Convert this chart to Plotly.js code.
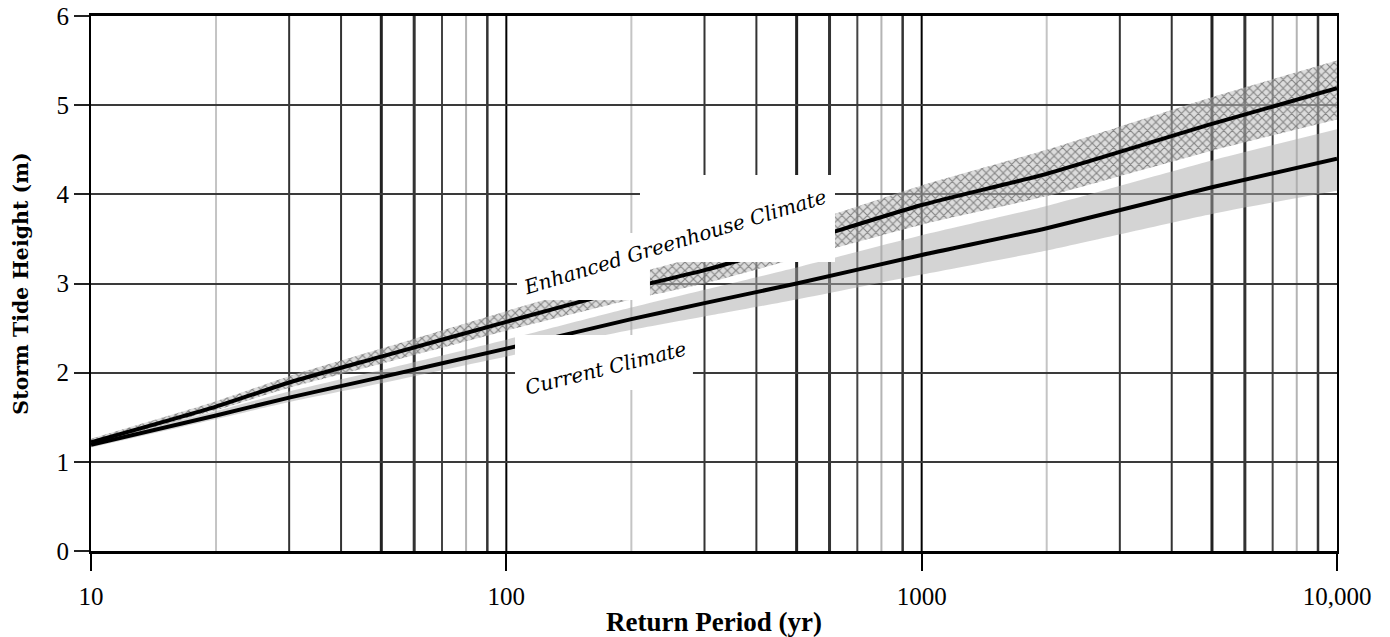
<!DOCTYPE html>
<html>
<head>
<meta charset="utf-8">
<script src="https://cdn.plot.ly/plotly-3.0.1.min.js"></script>
<style>html,body{margin:0;padding:0;background:#fff;}#chart{width:1390px;height:637px;}</style>
</head>
<body>
<div id="chart"></div>
<script>
// ---- data ----
const returnPeriod = [10, 20, 30, 50, 100, 200, 300, 500, 1000, 2000, 5000, 10000];

const enhancedHeight = [1.22, 1.62, 1.89, 2.18, 2.57, 2.95, 3.15, 3.45, 3.88, 4.23, 4.79, 5.19];
const enhancedUpper  = [1.26, 1.68, 1.96, 2.27, 2.69, 3.10, 3.32, 3.64, 4.10, 4.50, 5.09, 5.50];
const enhancedLower  = [1.19, 1.58, 1.83, 2.10, 2.47, 2.82, 3.00, 3.28, 3.66, 3.98, 4.49, 4.84];

const currentHeight  = [1.19, 1.52, 1.72, 1.95, 2.27, 2.60, 2.78, 3.00, 3.32, 3.62, 4.08, 4.40];
const currentUpper   = [1.22, 1.57, 1.79, 2.03, 2.37, 2.73, 2.93, 3.18, 3.54, 3.87, 4.38, 4.73];
const currentLower   = [1.16, 1.48, 1.67, 1.88, 2.18, 2.48, 2.63, 2.82, 3.10, 3.37, 3.78, 4.04];

const xTickVals = [10, 100, 1000, 10000];
const xTickText = ['10', '100', '1000', '10,000'];
const yTickVals = [0, 1, 2, 3, 4, 5, 6];

const seriesLabels = ['Enhanced Greenhouse Climate', 'Current Climate'];

// minor log grid multipliers and their drawn shade
const gridMultipliers = [2, 3, 4, 5, 6, 7, 8, 9];
const gridColors = ['#c4c4c4', '#333333', '#333333', '#222222', '#333333', '#444444', '#b4b4b4', '#333333'];
const gridWidths = [2, 2, 2, 3, 3, 2, 2, 2.5];
const gridDecades = [10, 100, 1000];

// ---- traces ----
const traces = [
  {x: returnPeriod, y: currentLower, mode: 'lines', line: {width: 0, color: 'rgba(0,0,0,0)', shape: 'spline', smoothing: 0.6}, hoverinfo: 'skip', showlegend: false},
  {x: returnPeriod, y: currentUpper, mode: 'lines', line: {width: 0, color: 'rgba(0,0,0,0)', shape: 'spline', smoothing: 0.6}, fill: 'tonexty', fillcolor: 'rgba(170,170,170,0.5)', hoverinfo: 'skip', showlegend: false},
  {x: returnPeriod, y: enhancedLower, mode: 'lines', line: {width: 0, color: 'rgba(0,0,0,0)', shape: 'spline', smoothing: 0.6}, hoverinfo: 'skip', showlegend: false},
  {x: returnPeriod, y: enhancedUpper, mode: 'lines', line: {width: 0, color: 'rgba(0,0,0,0)', shape: 'spline', smoothing: 0.6}, fill: 'tonexty', fillcolor: 'rgba(185,185,185,0.55)',
    fillpattern: {shape: 'x', size: 6, solidity: 0.35, fgcolor: 'rgba(110,110,110,0.8)', bgcolor: 'rgba(190,190,190,0.55)'}, hoverinfo: 'skip', showlegend: false},
  {x: returnPeriod, y: currentHeight, mode: 'lines', name: seriesLabels[1], line: {color: '#000', width: 4, shape: 'spline', smoothing: 0.6}, showlegend: false},
  {x: returnPeriod, y: enhancedHeight, mode: 'lines', name: seriesLabels[0], line: {color: '#000', width: 4, shape: 'spline', smoothing: 0.6}, showlegend: false}
];

// ---- vertical log grid as shapes ----
const shapes = [];
gridDecades.forEach(d => {
  gridMultipliers.forEach((m, i) => {
    shapes.push({type: 'line', layer: 'below', xref: 'x', yref: 'paper', x0: d * m, x1: d * m, y0: 0, y1: 1,
      line: {color: gridColors[i], width: gridWidths[i]}});
  });
});
[100, 1000].forEach(d => {
  shapes.push({type: 'line', layer: 'below', xref: 'x', yref: 'paper', x0: d, x1: d, y0: 0, y1: 1,
    line: {color: '#000', width: 2}});
});
// white label boxes (as in the original scan)
const whiteBoxes = [
  [0.4406, 0.5971, 0.5402, 0.7028],
  [0.3419, 0.4486, 0.4692, 0.5944],
  [0.3403, 0.4831, 0.3009, 0.4037]
];
whiteBoxes.forEach(b => {
  shapes.push({type: 'rect', layer: 'above', xref: 'paper', yref: 'paper', x0: b[0], x1: b[1], y0: b[2], y1: b[3],
    fillcolor: '#fff', line: {width: 0}});
});

const layout = {
  width: 1390, height: 637,
  margin: {l: 91, r: 53, t: 16, b: 86},
  paper_bgcolor: '#fff', plot_bgcolor: '#fff',
  showlegend: false,
  font: {family: 'Liberation Serif, Times New Roman, serif', color: '#000', size: 25},
  xaxis: {
    type: 'log', range: [1, 4],
    tickvals: xTickVals, ticktext: xTickText,
    ticks: 'outside', ticklen: 17, tickwidth: 2, tickcolor: '#000',
    ticklabelstandoff: 4,
    showgrid: false, zeroline: false,
    showline: true, linecolor: '#000', linewidth: 3, mirror: true,
    tickfont: {family: 'Liberation Serif, serif', size: 25, color: '#000'},
    title: {text: 'Return Period (yr)', font: {family: 'Liberation Serif, serif', size: 27, color: '#000', weight: 'bold'}, standoff: 4}
  },
  yaxis: {
    range: [0, 6], tickvals: yTickVals,
    ticks: 'outside', ticklen: 15, tickwidth: 2, tickcolor: '#222',
    showgrid: true, gridcolor: '#3a3a3a', gridwidth: 2, zeroline: false,
    showline: true, linecolor: '#000', linewidth: 2, mirror: true,
    tickfont: {family: 'Liberation Serif, serif', size: 25, color: '#000'},
    title: {text: 'Storm Tide Height (m)', font: {family: 'DejaVu Serif, serif', size: 20.5, color: '#000', weight: 'bold'}, standoff: 22}
  },
  shapes: shapes,
  annotations: [
    {xref: 'paper', yref: 'paper', x: 0.4687, y: 0.5776, text: '<i>' + seriesLabels[0] + '</i>', showarrow: false,
      textangle: -17, font: {family: 'DejaVu Serif, serif', size: 20, color: '#000'}},
    {xref: 'paper', yref: 'paper', x: 0.4133, y: 0.342, text: '<i>' + seriesLabels[1] + '</i>', showarrow: false,
      textangle: -14, font: {family: 'DejaVu Serif, serif', size: 20, color: '#000'}}
  ]
};

Plotly.newPlot('chart', traces, layout, {staticPlot: true, displayModeBar: false});
</script>
</body>
</html>
